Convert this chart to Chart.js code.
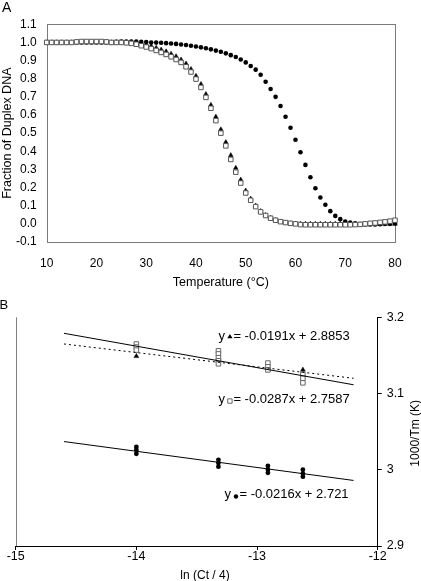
<!DOCTYPE html>
<html>
<head>
<meta charset="utf-8">
<script src="https://cdn.jsdelivr.net/npm/chart.js@4.4.1/dist/chart.umd.min.js"></script>
<style>
  html, body { margin: 0; padding: 0; background: #fff; }
  #wrap { position: relative; width: 421px; height: 581px; overflow: hidden; }
  canvas { position: absolute; left: 0; }
  #chartA { top: 0; }
  #chartB { top: 290px; }
</style>
</head>
<body>
<div id="wrap">
  <canvas id="chartA" width="421" height="290"></canvas>
  <canvas id="chartB" width="421" height="291"></canvas>
</div>
<script>
const FONT = "'Liberation Sans', Arial, sans-serif";

// ---- panel A : melting curves, one reading per degree ----
const temps = [
  10, 11, 12, 13, 14, 15, 16, 17, 18, 19,
  20, 21, 22, 23, 24, 25, 26, 27, 28, 29,
  30, 31, 32, 33, 34, 35, 36, 37, 38, 39,
  40, 41, 42, 43, 44, 45, 46, 47, 48, 49,
  50, 51, 52, 53, 54, 55, 56, 57, 58, 59,
  60, 61, 62, 63, 64, 65, 66, 67, 68, 69,
  70, 71, 72, 73, 74, 75, 76, 77, 78, 79,
  80];
const duplexSquare = [
  1.0, 1.0, 1.0, 1.0, 1.0, 1.0, 1.003, 1.005, 1.005, 1.005,
  1.005, 1.005, 1.003, 1.0, 1.0, 1.0, 0.998, 0.995, 0.99, 0.982,
  0.975, 0.966, 0.956, 0.945, 0.934, 0.921, 0.906, 0.89, 0.866, 0.837,
  0.798, 0.752, 0.697, 0.637, 0.569, 0.50, 0.43, 0.355, 0.285, 0.225,
  0.17, 0.13, 0.095, 0.066, 0.046, 0.031, 0.02, 0.012, 0.007, 0.003,
  0.0, -0.004, -0.005, -0.005, -0.005, -0.005, -0.005, -0.005, -0.005, -0.005,
  -0.005, -0.005, -0.004, -0.003, 0.0, 0.003, 0.005, 0.008, 0.011, 0.015,
  0.02];
const duplexTriangle = [
  1.0, 1.0, 1.0, 1.0, 1.0, 1.0, 1.0, 1.0, 1.0, 1.0,
  1.0, 1.0, 1.0, 1.0, 1.0, 1.0, 1.0, 1.0, 0.997, 0.993,
  0.988, 0.98, 0.97, 0.96, 0.95, 0.937, 0.923, 0.905, 0.883, 0.853,
  0.815, 0.77, 0.715, 0.655, 0.59, 0.52, 0.45, 0.378, 0.308, 0.243,
  0.183, 0.138, 0.10, 0.07, 0.048, 0.032, 0.02, 0.012, 0.006, 0.002,
  0.0, 0.0, 0.0, 0.0, 0.0, 0.0, 0.0, 0.0, 0.0, 0.0,
  -0.003, -0.003, -0.003, -0.003, -0.003, -0.003, -0.003, -0.002, 0.0, 0.0,
  0.0];
const duplexCircle = [
  1.0, 1.0, 1.0, 1.0, 1.0, 1.0, 1.0, 1.0, 1.0, 1.0,
  1.0, 1.0, 1.0, 1.0, 1.003, 1.005, 1.005, 1.005, 1.005, 1.003,
  1.002, 1.0, 0.999, 0.998, 0.996, 0.994, 0.992, 0.989, 0.986, 0.982,
  0.978, 0.973, 0.968, 0.962, 0.955, 0.949, 0.94, 0.93, 0.92, 0.906,
  0.89, 0.87, 0.85, 0.822, 0.783, 0.743, 0.70, 0.65, 0.59, 0.53,
  0.464, 0.395, 0.325, 0.257, 0.196, 0.145, 0.105, 0.07, 0.044, 0.026,
  0.013, 0.007, 0.003, -0.003, -0.003, -0.003, -0.003, -0.002, 0.0, 0.0,
  0.002];
const tempTicks = [10, 20, 30, 40, 50, 60, 70, 80];
const fracTicks = [-0.1, 0.0, 0.1, 0.2, 0.3, 0.4, 0.5, 0.6, 0.7, 0.8, 0.9, 1.0, 1.1];

// ---- panel B : 1000/Tm against ln(Ct/4) ----
const lnCtTicks = [-15, -14, -13, -12];
const invTmTicks = [2.9, 3.0, 3.1, 3.2];
const sqLnCt = [-14.0, -14.0, -14.0, -13.32, -13.32, -13.32, -13.32, -13.32, -12.91, -12.91, -12.91, -12.62, -12.62, -12.62];
const sqInvTm = [3.165, 3.161, 3.157, 3.156, 3.152, 3.147, 3.143, 3.139, 3.140, 3.135, 3.131, 3.125, 3.120, 3.114];
const triLnCt = [-14.0, -13.32, -12.91, -12.62];
const triInvTm = [3.149, 3.146, 3.134, 3.131];
const dotLnCt = [-14.0, -14.0, -14.0, -13.32, -13.32, -13.32, -12.91, -12.91, -12.91, -12.62, -12.62, -12.62];
const dotInvTm = [3.030, 3.026, 3.021, 3.013, 3.009, 3.004, 3.005, 3.000, 2.996, 3.000, 2.995, 2.991];
const fitLnCt = [-14.6, -12.2];
const fitSquare = [3.179, 3.1115];
const fitTriangle = [3.165, 3.120];
const fitCircle = [3.037, 2.986];
const eqText = ['= -0.0191x + 2.8853', '= -0.0287x + 2.7587', '= -0.0216x + 2.721'];
const eqMarker = ['triangle', 'rect', 'circle'];
// where each equation starts ("y" left edge, text baseline), in axis units
const eqAtX = [-13.32, -13.32, -13.27];
const eqAtY = [3.1705, 3.087, 2.9626];

const pts = (xs, ys) => xs.map((x, i) => ({ x, y: ys[i] }));
const fixTicks = (vals) => (s) => { s.ticks = vals.map((v) => ({ value: v })); };

function letter(ctx, txt, x, y, size) {
  ctx.save();
  ctx.fillStyle = '#000';
  ctx.font = `${size}px ${FONT}`;
  ctx.textBaseline = 'alphabetic';
  ctx.fillText(txt, x, y);
  ctx.restore();
}

const frameA = {
  id: 'frameA',
  beforeDatasetsDraw(chart) {
    const { ctx, chartArea: a } = chart;
    ctx.save();
    ctx.strokeStyle = '#7a7a7a';
    ctx.lineWidth = 1;
    ctx.strokeRect(Math.round(a.left) + 0.5, Math.round(a.top) + 0.5,
      Math.round(a.right - a.left), Math.round(a.bottom - a.top));
    ctx.restore();
  },
  afterDraw(chart) { letter(chart.ctx, 'A', 2, 12, 14); },
};

new Chart(document.getElementById('chartA'), {
  type: 'scatter',
  data: {
    datasets: [
      { data: pts(temps, duplexSquare), order: 1, pointStyle: 'rect', pointRadius: 3.2,
        pointBackgroundColor: '#fff', pointBorderColor: '#555', pointBorderWidth: 1, clip: false },
      { data: pts(temps, duplexTriangle), order: 2, pointStyle: 'triangle', pointRadius: 2.7,
        pointBackgroundColor: '#000', pointBorderColor: '#000', pointBorderWidth: 0.5, clip: false },
      { data: pts(temps, duplexCircle), order: 3, pointStyle: 'circle', pointRadius: 2.3,
        pointBackgroundColor: '#000', pointBorderColor: '#000', pointBorderWidth: 0, clip: false },
    ],
  },
  options: {
    responsive: false,
    animation: false,
    events: [],
    layout: { padding: { left: 0, right: 26, top: 24.3, bottom: 0 } },
    plugins: { legend: { display: false }, tooltip: { enabled: false } },
    scales: {
      x: {
        type: 'linear', min: 10, max: 80,
        afterBuildTicks: fixTicks(tempTicks),
        afterFit: (s) => { s.height = 48; },
        grid: { display: false, drawTicks: false },
        border: { display: false },
        ticks: { color: '#000', padding: 14, font: { family: FONT, size: 12 } },
        title: { display: true, text: 'Temperature (°C)', color: '#000', padding: 0,
          font: { family: FONT, size: 12.5 } },
      },
      y: {
        min: -0.1, max: 1.1,
        afterBuildTicks: fixTicks(fracTicks),
        afterFit: (s) => { s.width = 46.7; },
        grid: { display: false, drawTicks: false },
        border: { display: false },
        ticks: { color: '#000', padding: 10, font: { family: FONT, size: 12 },
          callback: (v) => v.toFixed(1) },
        title: { display: true, text: 'Fraction of Duplex DNA', color: '#000', padding: 0,
          font: { family: FONT, size: 12.5 } },
      },
    },
  },
  plugins: [frameA],
});

function drawMarker(ctx, kind, x, y) {
  ctx.beginPath();
  if (kind === 'triangle') {
    ctx.moveTo(x, y - 2.3);
    ctx.lineTo(x + 2.6, y + 1.9);
    ctx.lineTo(x - 2.6, y + 1.9);
    ctx.closePath();
    ctx.fillStyle = '#000';
    ctx.fill();
  } else if (kind === 'rect') {
    ctx.rect(x - 2.2, y - 2.2, 4.4, 4.4);
    ctx.fillStyle = '#fff';
    ctx.fill();
    ctx.strokeStyle = '#666';
    ctx.lineWidth = 1;
    ctx.stroke();
  } else {
    ctx.arc(x, y, 2.2, 0, Math.PI * 2);
    ctx.fillStyle = '#000';
    ctx.fill();
  }
}

const extrasB = {
  id: 'extrasB',
  beforeDatasetsDraw(chart) {
    const { ctx, chartArea: a } = chart;
    ctx.save();
    ctx.strokeStyle = '#808080';
    ctx.lineWidth = 1;
    ctx.beginPath();
    ctx.moveTo(Math.round(a.left) + 0.5, a.top);
    ctx.lineTo(Math.round(a.left) + 0.5, a.bottom);
    ctx.stroke();
    ctx.restore();
  },
  afterDraw(chart) {
    const { ctx, scales } = chart;
    ctx.save();
    ctx.fillStyle = '#000';
    ctx.font = `13px ${FONT}`;
    ctx.textBaseline = 'alphabetic';
    eqText.forEach((t, i) => {
      const px = scales.x.getPixelForValue(eqAtX[i]);
      const py = scales.y.getPixelForValue(eqAtY[i]);
      ctx.fillStyle = '#000';
      ctx.fillText('y', px, py);
      const dy = eqMarker[i] === 'triangle' ? -3.4 : (eqMarker[i] === 'rect' ? -2.4 : -1.8);
      drawMarker(ctx, eqMarker[i], px + 11.5, py + dy);
      ctx.fillStyle = '#000';
      ctx.fillText(t, px + 15, py);
    });
    // axis titles of panel B
    ctx.font = `12px ${FONT}`;
    ctx.textAlign = 'center';
    ctx.textBaseline = 'middle';
    ctx.fillText('ln (Ct / 4)', 205, 286);
    ctx.translate(416, 143.3);
    ctx.rotate(-Math.PI / 2);
    ctx.fillText('1000/Tm (K)', 0, 0);
    ctx.restore();
    letter(ctx, 'B', -0.5, 18.7, 13);
  },
};

new Chart(document.getElementById('chartB'), {
  type: 'scatter',
  data: {
    datasets: [
      { type: 'line', data: pts(fitLnCt, fitSquare), order: 0, showLine: true, pointRadius: 0,
        borderColor: '#000', borderWidth: 1, clip: false },
      { type: 'line', data: pts(fitLnCt, fitTriangle), order: 0, showLine: true, pointRadius: 0,
        borderColor: '#000', borderWidth: 1, borderDash: [2, 3], clip: false },
      { type: 'line', data: pts(fitLnCt, fitCircle), order: 0, showLine: true, pointRadius: 0,
        borderColor: '#000', borderWidth: 1, clip: false },
      { data: pts(sqLnCt, sqInvTm), order: 1, pointStyle: 'rect', pointRadius: 3.2,
        pointBackgroundColor: '#fff', pointBorderColor: '#666', pointBorderWidth: 1, clip: false },
      { data: pts(triLnCt, triInvTm), order: 2, pointStyle: 'triangle', pointRadius: 2.8,
        pointBackgroundColor: '#000', pointBorderColor: '#000', pointBorderWidth: 0.5, clip: false },
      { data: pts(dotLnCt, dotInvTm), order: 3, pointStyle: 'circle', pointRadius: 2.4,
        pointBackgroundColor: '#000', pointBorderColor: '#000', pointBorderWidth: 0, clip: false },
    ],
  },
  options: {
    responsive: false,
    animation: false,
    events: [],
    layout: { padding: { left: 15.7, right: 0, top: 27.3, bottom: 0 } },
    plugins: { legend: { display: false }, tooltip: { enabled: false } },
    scales: {
      x: {
        type: 'linear', min: -15, max: -12,
        afterBuildTicks: fixTicks(lnCtTicks),
        afterFit: (s) => { s.height = 35; },
        grid: { display: true, drawOnChartArea: false, drawTicks: true, tickLength: 4, color: '#000' },
        border: { display: true, color: '#000', width: 1 },
        ticks: { color: '#000', padding: 0, font: { family: FONT, size: 12.5, lineHeight: 1 } },
      },
      y: {
        position: 'right',
        min: 2.9, max: 3.2,
        afterBuildTicks: fixTicks(invTmTicks),
        afterFit: (s) => { s.width = 43.3; },
        grid: { display: true, drawOnChartArea: false, drawTicks: true, tickLength: 4, color: '#000' },
        border: { display: true, color: '#000', width: 1 },
        ticks: { color: '#000', padding: 5, font: { family: FONT, size: 12.5 },
          callback: (v) => String(+v.toFixed(1)) },
      },
    },
  },
  plugins: [extrasB],
});
</script>
</body>
</html>
